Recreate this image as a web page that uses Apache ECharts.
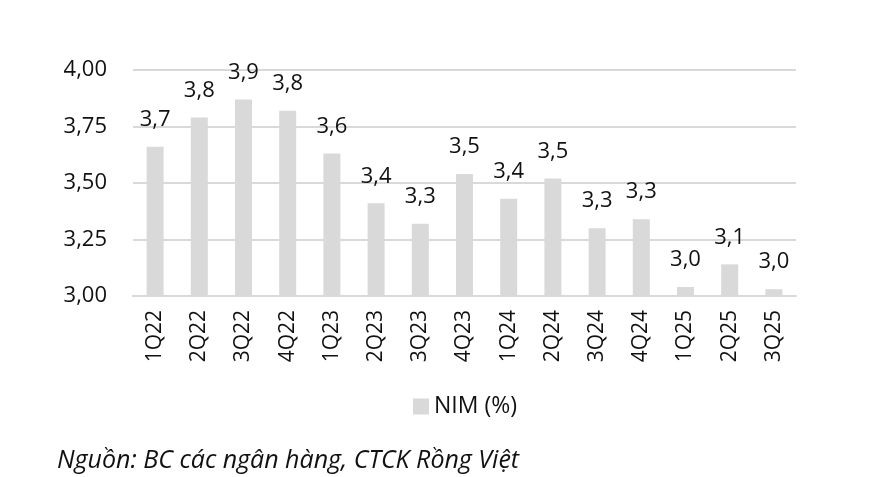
<!DOCTYPE html>
<html>
<head>
<meta charset="utf-8">
<script src="https://cdn.jsdelivr.net/npm/echarts@6/dist/echarts.min.js"></script>
<style>html,body{margin:0;padding:0;background:#fff;}#c{width:879px;height:477px;}</style>
</head>
<body>
<div id="c"></div>
<script>
const categories = ['1Q22','2Q22','3Q22','4Q22','1Q23','2Q23','3Q23','4Q23','1Q24','2Q24','3Q24','4Q24','1Q25','2Q25','3Q25'];
const nimValues = [3.66, 3.79, 3.87, 3.82, 3.63, 3.41, 3.32, 3.54, 3.43, 3.52, 3.30, 3.34, 3.04, 3.14, 3.03];
const yTicks = [3.00, 3.25, 3.50, 3.75, 4.00];
const seriesName = 'NIM (%)';
const sourceNote = 'Nguồn: BC các ngân hàng, CTCK Rồng Việt';

const font = '"Open Sans", "Noto Sans", sans-serif';
const chart = echarts.init(document.getElementById('c'));
chart.setOption({
  animation: false,
  textStyle: { fontFamily: font },
  title: {
    text: sourceNote,
    left: 52, top: 443,
    textStyle: { fontFamily: font, fontStyle: 'italic', fontWeight: 'normal', fontSize: 25, color: '#111' }
  },
  legend: {
    data: [seriesName],
    left: 408, top: 390,
    icon: 'rect', itemWidth: 16, itemHeight: 16, itemGap: 6,
    textStyle: { fontFamily: font, fontSize: 23, color: '#111' }
  },
  grid: { left: 133, right: 83, top: 70, bottom: 181 },
  xAxis: {
    type: 'category',
    data: categories,
    axisLine: { show: true, lineStyle: { color: '#d9d9d9', width: 2 } },
    axisTick: { show: false },
    axisLabel: { rotate: 90, margin: 14, fontSize: 21, color: '#111', fontFamily: font }
  },
  yAxis: {
    type: 'value',
    min: yTicks[0], max: yTicks[yTicks.length - 1], interval: 0.25,
    axisLine: { show: false },
    axisTick: { show: false },
    splitLine: { lineStyle: { color: '#d9d9d9', width: 2 } },
    axisLabel: {
      margin: 26, fontSize: 22, color: '#111', fontFamily: font,
      formatter: v => v.toFixed(2).replace('.', ',')
    }
  },
  series: [{
    name: seriesName,
    type: 'bar',
    data: nimValues,
    barWidth: 17,
    itemStyle: { color: '#d9d9d9' },
    label: {
      show: true, position: 'top', distance: 16,
      fontSize: 22, color: '#111', fontFamily: font,
      formatter: p => p.value.toFixed(1).replace('.', ',')
    }
  }]
});
</script>
</body>
</html>
